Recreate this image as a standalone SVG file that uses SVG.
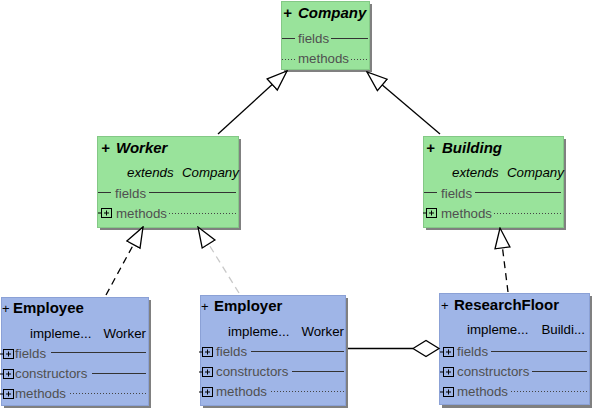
<svg xmlns="http://www.w3.org/2000/svg" width="593" height="408" viewBox="0 0 593 408">
<defs>
<style>
.g{fill:#99e39b;stroke:#84c886;stroke-width:1}
.b{fill:#9fb5e7;stroke:#8ba1d6;stroke-width:1}
.sh{fill:#808080}
.t{font-family:"Liberation Sans",Arial,sans-serif;font-size:15px;font-weight:bold;fill:#000}
.ti{font-style:italic}
.x{font-family:"Liberation Sans",Arial,sans-serif;font-size:13.3px;fill:#000}
.p{font-family:"Liberation Sans",Arial,sans-serif;font-size:13px;fill:#000}
.m{font-family:"Liberation Sans",Arial,sans-serif;font-size:13.3px;fill:#505050}
.sl{stroke:#333;stroke-width:1;fill:none}
.dl{stroke:#444;stroke-width:1;stroke-dasharray:1 2;fill:none}
.ic{fill:none;stroke:#000;stroke-width:1}
.c{stroke:#000;stroke-width:1.3;fill:none}
.cd{stroke:#000;stroke-width:1.3;fill:none;stroke-dasharray:7 5}
.cg{stroke:#c8c8c8;stroke-width:1.3;fill:none;stroke-dasharray:7 5}
</style>
<marker id="tri" markerUnits="userSpaceOnUse" markerWidth="22" markerHeight="18" viewBox="-1 -1 22 18" refX="20" refY="7.5" orient="auto">
<path d="M0,0 L20,7.5 L0,15 Z" fill="#fff" stroke="#000" stroke-width="1.3"/>
</marker>
<g id="pl"><path class="ic" d="M-3,5H0.5"/><rect class="ic" x="0.5" y="0.5" width="10" height="9"/><path class="ic" d="M3,5H8M5.5,2.5V7.5"/></g>
</defs>

<g id="company">
<rect class="sh" x="284" y="4" width="88" height="68"/>
<rect class="g" x="281.5" y="1.5" width="88" height="68"/>
<text class="t ti" x="283" y="18">+</text>
<text class="t ti" x="298" y="18">Company</text>
<line class="sl" x1="282" y1="38.5" x2="295" y2="38.5"/>
<text class="m" x="298" y="43">fields</text>
<line class="sl" x1="331" y1="38.5" x2="368" y2="38.5"/>
<line class="dl" x1="282" y1="59.5" x2="295" y2="59.5"/>
<text class="m" x="298" y="63">methods</text>
<line class="dl" x1="351" y1="59.5" x2="368" y2="59.5"/>
</g>

<g id="worker">
<rect class="sh" x="100" y="139" width="141" height="91"/>
<rect class="g" x="97.5" y="136.5" width="141" height="91"/>
<text class="t ti" x="101" y="153">+</text>
<text class="t ti" x="116" y="153">Worker</text>
<text class="x ti" x="127" y="177">extends</text>
<text class="x ti" x="182" y="177">Company</text>
<line class="sl" x1="98" y1="192.5" x2="111" y2="192.5"/>
<text class="m" x="115" y="198">fields</text>
<line class="sl" x1="149" y1="192.5" x2="236" y2="192.5"/>
<use href="#pl" x="101" y="208"/>
<text class="m" x="116" y="218">methods</text>
<line class="dl" x1="169" y1="213.5" x2="236" y2="213.5"/>
</g>

<g id="building">
<rect class="sh" x="426" y="139" width="140" height="91"/>
<rect class="g" x="423.5" y="136.5" width="140" height="91"/>
<text class="t ti" x="426" y="153">+</text>
<text class="t ti" x="442" y="153">Building</text>
<text class="x ti" x="452" y="177">extends</text>
<text class="x ti" x="507" y="177">Company</text>
<line class="sl" x1="424" y1="192.5" x2="437" y2="192.5"/>
<text class="m" x="441" y="198">fields</text>
<line class="sl" x1="475" y1="192.5" x2="561" y2="192.5"/>
<use href="#pl" x="426" y="208"/>
<text class="m" x="441" y="218">methods</text>
<line class="dl" x1="494" y1="213.5" x2="561" y2="213.5"/>
</g>

<g id="employee">
<rect class="sh" x="4" y="300" width="147" height="110"/>
<rect class="b" x="1.5" y="297.5" width="147" height="108"/>
<text class="p" x="2" y="313">+</text>
<text class="t" x="13" y="313">Employee</text>
<text class="x" x="30" y="338">impleme...</text>
<text class="x" x="146" y="338" text-anchor="end">Worker</text>
<use href="#pl" x="3" y="349"/>
<text class="m" x="15" y="358">fields</text>
<line class="sl" x1="51" y1="352.5" x2="146" y2="352.5"/>
<use href="#pl" x="3" y="369"/>
<text class="m" x="15" y="378">constructors</text>
<line class="sl" x1="92" y1="373.5" x2="146" y2="373.5"/>
<use href="#pl" x="3" y="389"/>
<text class="m" x="15" y="398">methods</text>
<line class="dl" x1="70" y1="393.5" x2="146" y2="393.5"/>
</g>

<g id="employer">
<rect class="sh" x="203" y="298" width="145" height="112"/>
<rect class="b" x="200.5" y="295.5" width="145" height="110"/>
<text class="p" x="201" y="311">+</text>
<text class="t" x="214" y="311">Employer</text>
<text class="x" x="228" y="336">impleme...</text>
<text class="x" x="344" y="336" text-anchor="end">Worker</text>
<use href="#pl" x="202" y="347"/>
<text class="m" x="216" y="356">fields</text>
<line class="sl" x1="251" y1="351.5" x2="344" y2="351.5"/>
<use href="#pl" x="202" y="367"/>
<text class="m" x="216" y="376">constructors</text>
<line class="sl" x1="292" y1="371.5" x2="344" y2="371.5"/>
<use href="#pl" x="202" y="387"/>
<text class="m" x="216" y="396">methods</text>
<line class="dl" x1="271" y1="391.5" x2="344" y2="391.5"/>
</g>

<g id="researchfloor">
<rect class="sh" x="442" y="296" width="150" height="112"/>
<rect class="b" x="439.5" y="293.5" width="150" height="111"/>
<text class="p" x="441" y="310">+</text>
<text class="t" x="454" y="310">ResearchFloor</text>
<text class="x" x="467" y="334">impleme...</text>
<text class="x" x="585" y="334" text-anchor="end">Buildi...</text>
<use href="#pl" x="443" y="347"/>
<text class="m" x="457" y="356">fields</text>
<line class="sl" x1="491" y1="351.5" x2="587" y2="351.5"/>
<use href="#pl" x="443" y="367"/>
<text class="m" x="457" y="376">constructors</text>
<line class="sl" x1="532" y1="371.5" x2="587" y2="371.5"/>
<use href="#pl" x="443" y="387"/>
<text class="m" x="457" y="396">methods</text>
<line class="dl" x1="511" y1="391.5" x2="587" y2="391.5"/>
</g>

<g id="connectors">
<line class="c" x1="218" y1="134" x2="287" y2="71" marker-end="url(#tri)"/>
<line class="c" x1="440" y1="134" x2="367" y2="72" marker-end="url(#tri)"/>
<line class="cd" x1="106" y1="295" x2="143" y2="227" marker-end="url(#tri)"/>
<line class="cg" x1="239" y1="293" x2="198" y2="227" marker-end="url(#tri)"/>
<line class="cd" x1="508" y1="292" x2="500" y2="228" marker-end="url(#tri)"/>
<line class="c" x1="348" y1="348.5" x2="413" y2="348.5"/>
<polygon points="413,348.5 426,340.5 439,348.5 426,356.5" fill="#fff" stroke="#000" stroke-width="1.3"/>
</g>
</svg>
